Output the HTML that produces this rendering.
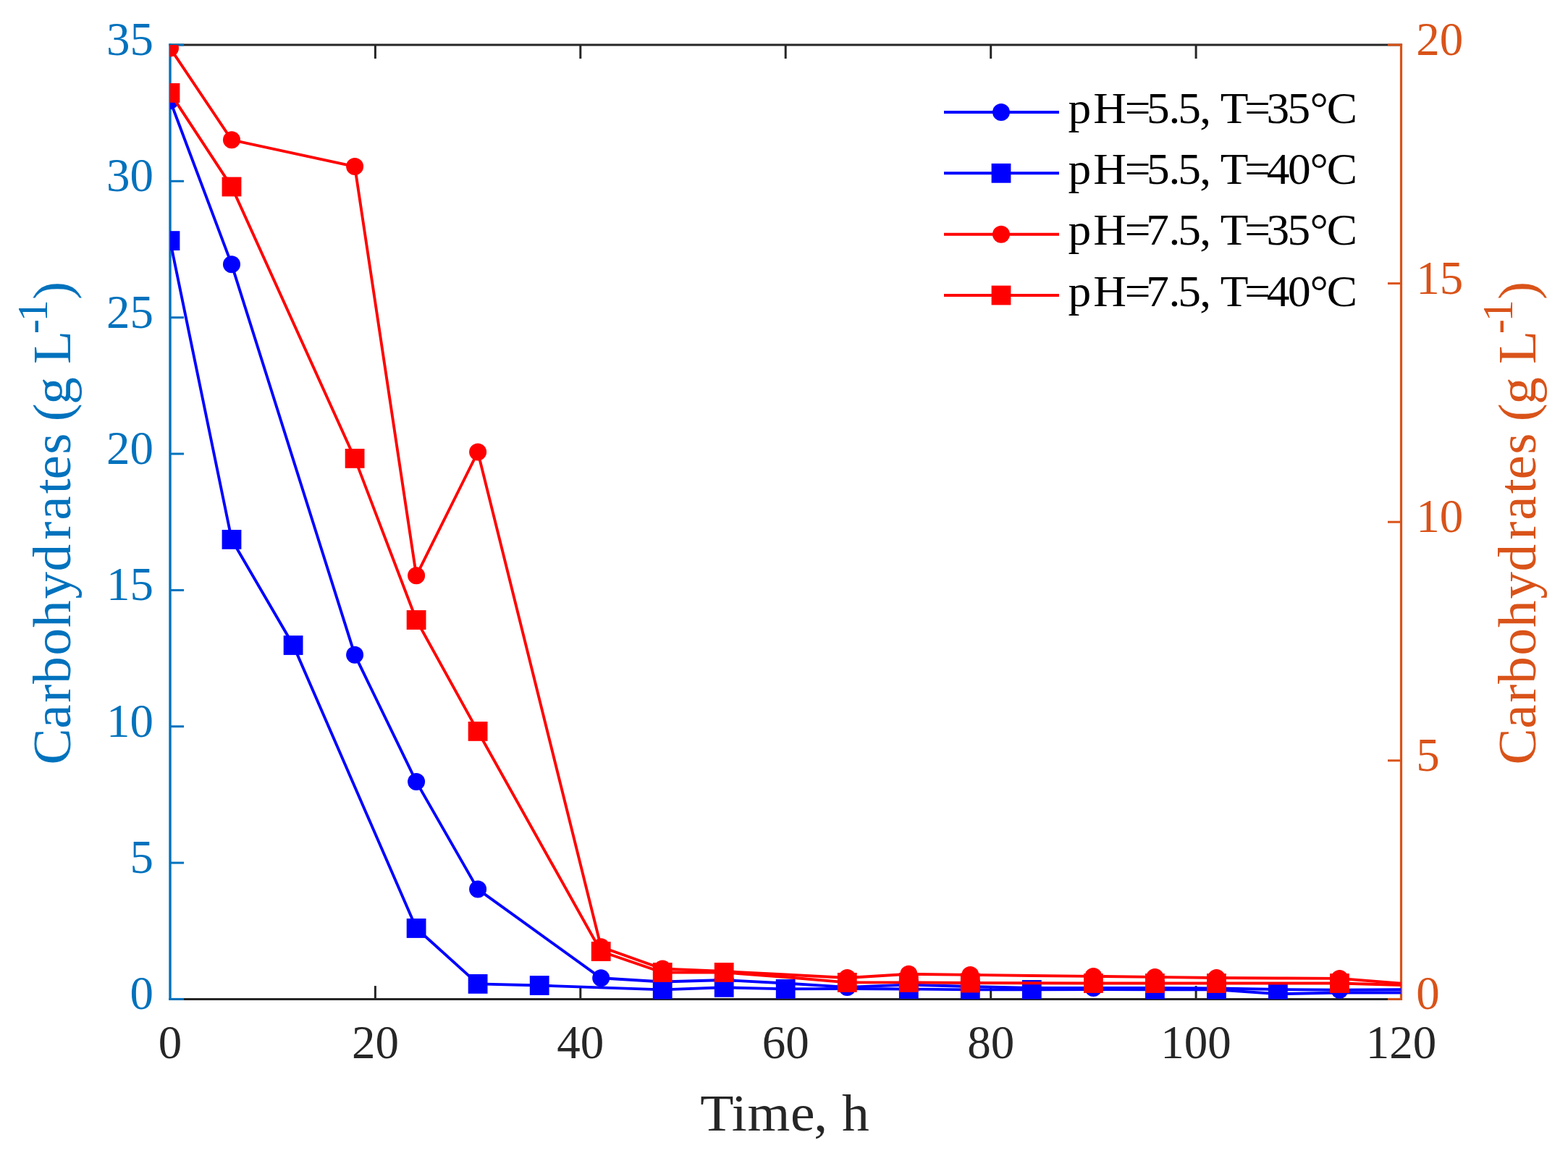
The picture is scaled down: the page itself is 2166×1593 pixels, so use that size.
<!DOCTYPE html><html><head><meta charset="utf-8"><style>html,body{margin:0;padding:0;background:#fff;width:2166px;height:1593px;overflow:hidden}svg{display:block}text{font-family:"Liberation Serif",serif}</style></head><body>
<svg width="2166" height="1593" viewBox="0 0 2166 1593">
<rect width="2166" height="1593" fill="#fff"/>
<defs><clipPath id="c"><rect x="235.0" y="62.0" width="1700.5" height="1318.4"/></clipPath></defs>
<g stroke-linecap="square" fill="none">
<line x1="235.0" y1="62.0" x2="1935.5" y2="62.0" stroke="#262626" stroke-width="3.2"/>
<line x1="235.0" y1="1380.4" x2="1935.5" y2="1380.4" stroke="#262626" stroke-width="3"/>
</g><g stroke-linecap="butt" fill="none">
<line x1="518.4" y1="62.0" x2="518.4" y2="81.0" stroke="#262626" stroke-width="3"/>
<line x1="518.4" y1="1380.4" x2="518.4" y2="1362.1" stroke="#262626" stroke-width="3"/>
<line x1="801.8" y1="62.0" x2="801.8" y2="81.0" stroke="#262626" stroke-width="3"/>
<line x1="801.8" y1="1380.4" x2="801.8" y2="1362.1" stroke="#262626" stroke-width="3"/>
<line x1="1085.2" y1="62.0" x2="1085.2" y2="81.0" stroke="#262626" stroke-width="3"/>
<line x1="1085.2" y1="1380.4" x2="1085.2" y2="1362.1" stroke="#262626" stroke-width="3"/>
<line x1="1368.7" y1="62.0" x2="1368.7" y2="81.0" stroke="#262626" stroke-width="3"/>
<line x1="1368.7" y1="1380.4" x2="1368.7" y2="1362.1" stroke="#262626" stroke-width="3"/>
<line x1="1652.1" y1="62.0" x2="1652.1" y2="81.0" stroke="#262626" stroke-width="3"/>
<line x1="1652.1" y1="1380.4" x2="1652.1" y2="1362.1" stroke="#262626" stroke-width="3"/>
<line x1="235.0" y1="62.0" x2="235.0" y2="1380.4" stroke="#0072bd" stroke-width="3.4" stroke-linecap="square"/>
<line x1="235.0" y1="1380.4" x2="254.0" y2="1380.4" stroke="#0072bd" stroke-width="3"/>
<line x1="235.0" y1="1192.1" x2="254.0" y2="1192.1" stroke="#0072bd" stroke-width="3"/>
<line x1="235.0" y1="1003.7" x2="254.0" y2="1003.7" stroke="#0072bd" stroke-width="3"/>
<line x1="235.0" y1="815.4" x2="254.0" y2="815.4" stroke="#0072bd" stroke-width="3"/>
<line x1="235.0" y1="627.0" x2="254.0" y2="627.0" stroke="#0072bd" stroke-width="3"/>
<line x1="235.0" y1="438.7" x2="254.0" y2="438.7" stroke="#0072bd" stroke-width="3"/>
<line x1="235.0" y1="250.3" x2="254.0" y2="250.3" stroke="#0072bd" stroke-width="3"/>
<line x1="235.0" y1="62.0" x2="254.0" y2="62.0" stroke="#0072bd" stroke-width="3"/>
<line x1="1935.5" y1="62.0" x2="1935.5" y2="1380.4" stroke="#d95319" stroke-width="3.2" stroke-linecap="square"/>
<line x1="1935.5" y1="1380.4" x2="1917.0" y2="1380.4" stroke="#d95319" stroke-width="3"/>
<line x1="1935.5" y1="1050.8" x2="1917.0" y2="1050.8" stroke="#d95319" stroke-width="3"/>
<line x1="1935.5" y1="721.2" x2="1917.0" y2="721.2" stroke="#d95319" stroke-width="3"/>
<line x1="1935.5" y1="391.6" x2="1917.0" y2="391.6" stroke="#d95319" stroke-width="3"/>
<line x1="1935.5" y1="62.0" x2="1917.0" y2="62.0" stroke="#d95319" stroke-width="3"/>
</g>
<g clip-path="url(#c)">
<polyline points="235.0,139.0 320.0,365.3 490.1,904.7 575.1,1080.1 660.1,1228.6 830.2,1351.3 915.2,1356.5 1000.2,1354.0 1085.2,1358.5 1170.3,1363.9 1255.3,1360.5 1340.3,1363.0 1425.3,1365.0 1510.4,1365.0 1595.4,1365.0 1680.4,1365.5 1765.5,1367.0 1850.5,1367.8 1935.5,1367.3" fill="none" stroke="#0000ff" stroke-width="3.9" stroke-linejoin="miter"/><circle cx="235.0" cy="139.0" r="12.0" fill="#0000ff"/><circle cx="320.0" cy="365.3" r="12.0" fill="#0000ff"/><circle cx="490.1" cy="904.7" r="12.0" fill="#0000ff"/><circle cx="575.1" cy="1080.1" r="12.0" fill="#0000ff"/><circle cx="660.1" cy="1228.6" r="12.0" fill="#0000ff"/><circle cx="830.2" cy="1351.3" r="12.0" fill="#0000ff"/><circle cx="1170.3" cy="1363.9" r="12.0" fill="#0000ff"/><circle cx="1510.4" cy="1365.0" r="12.0" fill="#0000ff"/><circle cx="1850.5" cy="1367.8" r="12.0" fill="#0000ff"/>
<polyline points="235.0,332.6 320.0,745.4 405.1,891.5 575.1,1282.5 660.1,1359.4 745.1,1361.5 915.2,1367.4 1000.2,1364.3 1085.2,1366.4 1170.3,1366.0 1255.3,1366.5 1340.3,1367.4 1425.3,1367.4 1510.4,1367.0 1595.4,1367.4 1680.4,1367.4 1765.5,1373.2 1850.5,1371.5 1935.5,1371.5" fill="none" stroke="#0000ff" stroke-width="3.9" stroke-linejoin="miter"/><rect x="221.6" y="319.2" width="26.8" height="26.8" fill="#0000ff"/><rect x="306.6" y="732.0" width="26.8" height="26.8" fill="#0000ff"/><rect x="391.7" y="878.1" width="26.8" height="26.8" fill="#0000ff"/><rect x="561.7" y="1269.1" width="26.8" height="26.8" fill="#0000ff"/><rect x="646.7" y="1346.0" width="26.8" height="26.8" fill="#0000ff"/><rect x="731.8" y="1348.1" width="26.8" height="26.8" fill="#0000ff"/><rect x="901.8" y="1354.0" width="26.8" height="26.8" fill="#0000ff"/><rect x="986.8" y="1350.9" width="26.8" height="26.8" fill="#0000ff"/><rect x="1071.8" y="1353.0" width="26.8" height="26.8" fill="#0000ff"/><rect x="1241.9" y="1353.1" width="26.8" height="26.8" fill="#0000ff"/><rect x="1326.9" y="1354.0" width="26.8" height="26.8" fill="#0000ff"/><rect x="1411.9" y="1354.0" width="26.8" height="26.8" fill="#0000ff"/><rect x="1582.0" y="1354.0" width="26.8" height="26.8" fill="#0000ff"/><rect x="1667.0" y="1354.0" width="26.8" height="26.8" fill="#0000ff"/><rect x="1752.0" y="1359.8" width="26.8" height="26.8" fill="#0000ff"/>
<polyline points="235.0,66.4 320.0,193.3 490.1,230.0 575.1,795.3 660.1,624.5 830.2,1308.3 915.2,1338.5 1000.2,1342.0 1085.2,1346.5 1170.3,1351.0 1255.3,1345.8 1340.3,1346.9 1425.3,1348.0 1510.4,1348.9 1595.4,1349.9 1680.4,1351.0 1765.5,1351.5 1850.5,1351.9 1935.5,1358.7" fill="none" stroke="#ff0000" stroke-width="3.9" stroke-linejoin="miter"/><circle cx="235.0" cy="66.4" r="12.0" fill="#ff0000"/><circle cx="320.0" cy="193.3" r="12.0" fill="#ff0000"/><circle cx="490.1" cy="230.0" r="12.0" fill="#ff0000"/><circle cx="575.1" cy="795.3" r="12.0" fill="#ff0000"/><circle cx="660.1" cy="624.5" r="12.0" fill="#ff0000"/><circle cx="830.2" cy="1308.3" r="12.0" fill="#ff0000"/><circle cx="915.2" cy="1338.5" r="12.0" fill="#ff0000"/><circle cx="1170.3" cy="1351.0" r="12.0" fill="#ff0000"/><circle cx="1255.3" cy="1345.8" r="12.0" fill="#ff0000"/><circle cx="1340.3" cy="1346.9" r="12.0" fill="#ff0000"/><circle cx="1510.4" cy="1348.9" r="12.0" fill="#ff0000"/><circle cx="1595.4" cy="1349.9" r="12.0" fill="#ff0000"/><circle cx="1680.4" cy="1351.0" r="12.0" fill="#ff0000"/><circle cx="1850.5" cy="1351.9" r="12.0" fill="#ff0000"/>
<polyline points="235.0,128.4 320.0,258.0 490.1,633.4 575.1,856.5 660.1,1010.4 830.2,1314.5 915.2,1343.5 1000.2,1343.5 1085.2,1350.0 1170.3,1357.4 1255.3,1357.4 1340.3,1358.0 1425.3,1358.2 1510.4,1358.5 1595.4,1358.5 1680.4,1358.5 1765.5,1358.5 1850.5,1358.5 1935.5,1361.0" fill="none" stroke="#ff0000" stroke-width="3.9" stroke-linejoin="miter"/><rect x="221.6" y="115.0" width="26.8" height="26.8" fill="#ff0000"/><rect x="306.6" y="244.6" width="26.8" height="26.8" fill="#ff0000"/><rect x="476.7" y="620.0" width="26.8" height="26.8" fill="#ff0000"/><rect x="561.7" y="843.1" width="26.8" height="26.8" fill="#ff0000"/><rect x="646.7" y="997.0" width="26.8" height="26.8" fill="#ff0000"/><rect x="816.8" y="1301.1" width="26.8" height="26.8" fill="#ff0000"/><rect x="901.8" y="1330.1" width="26.8" height="26.8" fill="#ff0000"/><rect x="986.8" y="1330.1" width="26.8" height="26.8" fill="#ff0000"/><rect x="1156.9" y="1344.0" width="26.8" height="26.8" fill="#ff0000"/><rect x="1241.9" y="1344.0" width="26.8" height="26.8" fill="#ff0000"/><rect x="1326.9" y="1344.6" width="26.8" height="26.8" fill="#ff0000"/><rect x="1497.0" y="1345.1" width="26.8" height="26.8" fill="#ff0000"/><rect x="1582.0" y="1345.1" width="26.8" height="26.8" fill="#ff0000"/><rect x="1667.0" y="1345.1" width="26.8" height="26.8" fill="#ff0000"/><rect x="1837.1" y="1345.1" width="26.8" height="26.8" fill="#ff0000"/>
</g>
<g fill="#0072bd" font-size="65" text-anchor="end">
<text x="212" y="1394.4">0</text>
<text x="212" y="1206.1">5</text>
<text x="212" y="1017.7">10</text>
<text x="212" y="829.4">15</text>
<text x="212" y="641.0">20</text>
<text x="212" y="452.7">25</text>
<text x="212" y="264.3">30</text>
<text x="212" y="76.0">35</text>
</g>
<g fill="#d95319" font-size="65" text-anchor="start">
<text x="1956.2" y="1394.4">0</text>
<text x="1956.2" y="1064.8">5</text>
<text x="1956.2" y="735.2">10</text>
<text x="1956.2" y="405.6">15</text>
<text x="1956.2" y="76.0">20</text>
</g>
<g fill="#262626" font-size="65" text-anchor="middle">
<text x="235.0" y="1461.6">0</text>
<text x="518.4" y="1461.6">20</text>
<text x="801.8" y="1461.6">40</text>
<text x="1085.2" y="1461.6">60</text>
<text x="1368.7" y="1461.6">80</text>
<text x="1652.1" y="1461.6">100</text>
<text x="1935.5" y="1461.6">120</text>
</g>
<text transform="translate(0,1562) scale(1.050,1)" x="921.3 962.7 983.3 1040.1 1070.7 1087.7 1107.6" y="0" font-size="72" fill="#262626">Time, h</text>
<text transform="translate(97.0,1055) rotate(-90) scale(1.030,1)" fill="#0072bd" font-size="73"><tspan x="-1.4 46.9 81.8 107.1 145.2 182.5 220.9 257.8 300.3 326.5 361.9 381.1 414.7 442.7 459.0 481.9 520.1 535.9" y="0">Carbohydrates (g L</tspan><tspan x="576.4 592.8" y="-32" font-size="59">-1</tspan><tspan x="622.4" y="0">)</tspan></text>
<text transform="translate(2120.8,1055) rotate(-90) scale(1.030,1)" fill="#d95319" font-size="73"><tspan x="-1.4 46.9 81.8 107.1 145.2 182.5 220.9 257.8 300.3 326.5 361.9 381.1 414.7 442.7 459.0 481.9 520.1 535.9" y="0">Carbohydrates (g L</tspan><tspan x="576.4 592.8" y="-32" font-size="59">-1</tspan><tspan x="622.4" y="0">)</tspan></text>
<line x1="1304" y1="155.0" x2="1463" y2="155.0" stroke="#0000ff" stroke-width="4"/>
<circle cx="1383" cy="155.0" r="12.0" fill="#0000ff"/>
<text transform="translate(0,169.6) scale(1.030,1)" x="1432.6 1466.2 1508.6 1537.8 1567.5 1579.9 1609.1 1623.5 1636.7 1669.2 1698.5 1726.6 1756.7 1779.5" y="0" font-size="61.5" fill="#000">pH=5.5, T=35°C</text>
<line x1="1304" y1="239.3" x2="1463" y2="239.3" stroke="#0000ff" stroke-width="4"/>
<rect x="1369.6" y="225.9" width="26.8" height="26.8" fill="#0000ff"/>
<text transform="translate(0,253.9) scale(1.030,1)" x="1432.6 1466.2 1508.6 1537.8 1567.5 1579.9 1609.1 1623.5 1636.7 1669.2 1698.8 1727.2 1756.7 1779.5" y="0" font-size="61.5" fill="#000">pH=5.5, T=40°C</text>
<line x1="1304" y1="323.7" x2="1463" y2="323.7" stroke="#ff0000" stroke-width="4"/>
<circle cx="1383" cy="323.7" r="12.0" fill="#ff0000"/>
<text transform="translate(0,338.3) scale(1.030,1)" x="1432.6 1466.2 1508.6 1537.2 1567.5 1579.9 1609.1 1623.5 1636.7 1669.2 1698.5 1726.6 1756.7 1779.5" y="0" font-size="61.5" fill="#000">pH=7.5, T=35°C</text>
<line x1="1304" y1="408.0" x2="1463" y2="408.0" stroke="#ff0000" stroke-width="4"/>
<rect x="1369.6" y="394.6" width="26.8" height="26.8" fill="#ff0000"/>
<text transform="translate(0,422.6) scale(1.030,1)" x="1432.6 1466.2 1508.6 1537.2 1567.5 1579.9 1609.1 1623.5 1636.7 1669.2 1698.8 1727.2 1756.7 1779.5" y="0" font-size="61.5" fill="#000">pH=7.5, T=40°C</text>
</svg></body></html>
